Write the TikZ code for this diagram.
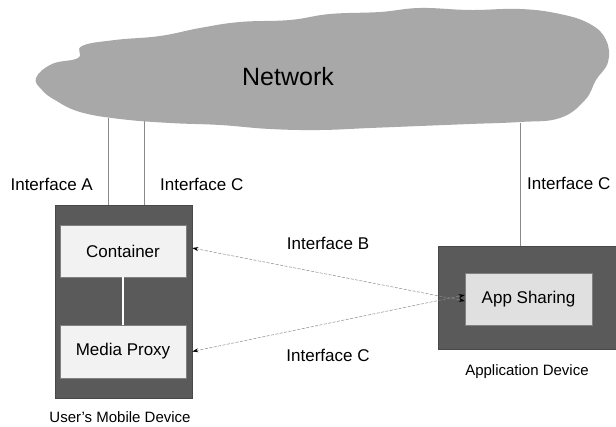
\documentclass[tikz,border=0pt]{standalone}
\usepackage{fontspec}
\setmainfont{Liberation Sans}
\usetikzlibrary{arrows.meta}
\definecolor{cloudgray}{HTML}{A8A8A8}
\definecolor{devgray}{HTML}{5A5A5A}
\definecolor{boxwhite}{HTML}{F2F2F2}
\definecolor{appbox}{HTML}{E0E0E0}
\definecolor{linegray}{HTML}{8A8A8A}
\tikzset{
  lbl/.style={font=\fontsize{17}{19}\selectfont, text=black, inner sep=0pt},
  devlbl/.style={font=\fontsize{15}{17}\selectfont, text=black, inner sep=0pt},
  device/.style={draw=devgray!80!black, fill=devgray, line width=0.6pt, inner sep=0pt},
  inbox/.style={draw=gray, fill=boxwhite, line width=0.4pt, inner sep=0pt,
     font=\fontsize{17}{19}\selectfont},
  vline/.style={draw=linegray, line width=0.6pt},
  iface/.style={draw=linegray, line width=0.5pt, dashed, dash pattern=on 3pt off 1.5pt,
     {Stealth[black,length=6pt,width=4pt]}-{Stealth[black,length=6pt,width=4pt]}}
}
\begin{document}
\begin{tikzpicture}[x=1pt,y=-1pt]
\useasboundingbox (0,0) rectangle (616,427);
% cloud
\fill[cloudgray] plot[smooth cycle, tension=0.7] coordinates {
  (36,78) (52,64) (78,58) (82,46) (115,40) (160,36) (200,28) (240,22)
  (290,20) (330,14) (380,12) (420,8) (470,10) (520,9) (560,14) (590,24)
  (606,40) (608,62) (596,80) (585,100) (560,118) (520,122) (470,124)
  (420,126) (370,128) (320,130) (270,129) (220,125) (170,123) (120,119)
  (80,112) (55,100) (42,90)};
\node[font=\fontsize{25}{27}\selectfont, inner sep=0pt] (net) at (288,77) {Network};
\coordinate (ca) at (108,118);
\coordinate (cc) at (144,121);
\coordinate (cr) at (520,123);
% left device
\node[device, minimum width=137pt, minimum height=193pt] (mob) at (123.5,301.5) {};
\node[inbox, minimum width=126pt, minimum height=52pt] (cont) at (123,251) {Container};
\node[inbox, minimum width=126pt, minimum height=53pt] (media) at (123,351.5) {Media Proxy};
\draw[white, line width=2pt] (cont.south) -- (media.north);
\node[devlbl] (mobl) at (120,417) {User’s Mobile Device};
% right device
\node[device, minimum width=178pt, minimum height=103pt] (appd) at (527,297.5) {};
\node[inbox, fill=appbox, minimum width=127pt, minimum height=52pt] (apps) at (528.5,299) {App Sharing};
\node[devlbl] (appl) at (527,372) {Application Device};
% vertical interface lines
\draw[vline] (ca) -- (ca |- mob.north);
\draw[vline] (cc) -- (cc |- mob.north);
\draw[vline] (cr) -- (cr |- appd.north);
\node[lbl, anchor=east] (ia) at (93,184) {Interface A};
\node[lbl, anchor=west] (ic1) at (160,184) {Interface C};
\node[lbl, anchor=west] (ic2) at (527,183) {Interface C};
% dashed interface lines
\coordinate (cont-e) at (mob.east |- cont.east);
\coordinate (media-e) at (mob.east |- media.east);
\draw[iface] ([yshift=3pt]cont-e) -- ([yshift=-2pt]apps.west);
\draw[iface] (media-e) -- ([yshift=4pt]apps.west);
\node[lbl] (ib) at (328,243) {Interface B};
\node[lbl] (ic3) at (328,355) {Interface C};
\end{tikzpicture}
\end{document}
